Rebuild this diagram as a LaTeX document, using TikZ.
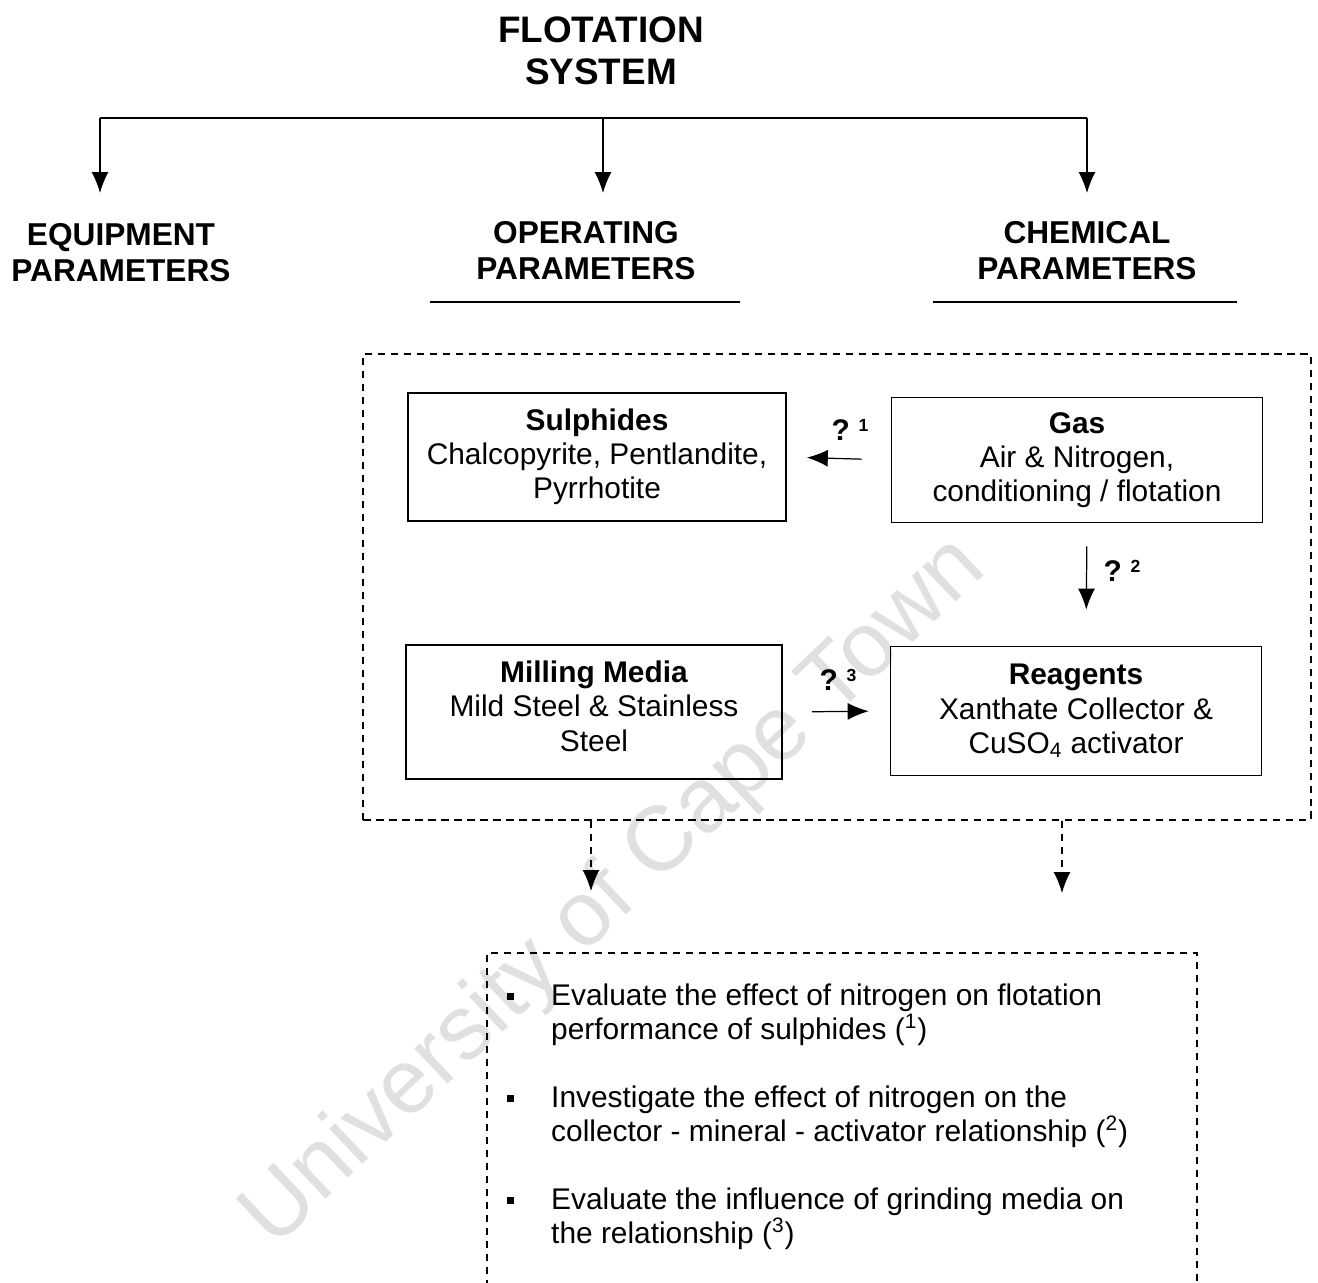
\documentclass[tikz,border=0pt]{standalone}
\usepackage{fontspec}
\setmainfont{Liberation Sans}
\usetikzlibrary{arrows.meta}

\begin{document}
\begin{tikzpicture}[x=0.02cm, y=-0.02cm,
    heading/.style={align=center, font=\fontsize{18}{20.5}\selectfont\bfseries},
    box/.style={draw, line width=1pt, align=center, inner sep=0pt, font=\fontsize{17}{19.5}\selectfont},
    qlabel/.style={font=\fontsize{17}{19}\selectfont\bfseries},
    arr/.style={line width=0.7pt, -{Latex[length=0.42cm, width=0.34cm]}},
    dashline/.style={line width=0.9pt, dash pattern=on 0.15cm off 0.11cm},
    itemtext/.style={anchor=west, align=left, font=\fontsize{17}{19.5}\selectfont},
    bulletbox/.style={fill, minimum size=0.14cm, inner sep=0pt}]

    \useasboundingbox (0,0) rectangle (1318,1282);
    \clip (0,0) rectangle (1318,1282);

    % watermark
    \node[text=black!12, rotate=43.5, font=\fontsize{52}{52}\selectfont] (wm) at (615,893) {University of Cape Town};

    % top of the tree
    \node[heading, font=\fontsize{21}{24}\selectfont\bfseries] (title) at (601,51) {FLOTATION\\SYSTEM};
    \node[heading] (equip) at (121,253) {EQUIPMENT\\PARAMETERS};
    \node[heading] (oper) at (586,251) {OPERATING\\PARAMETERS};
    \node[heading] (chem) at (1087,251) {CHEMICAL\\PARAMETERS};

    \coordinate (busE) at (100,118);
    \coordinate (busO) at (603,118);
    \coordinate (busC) at (1087,118);
    \coordinate (tipE) at (100,193);
    \coordinate (tipO) at (603,193);
    \coordinate (tipC) at (1087,193);

    \draw[line width=0.9pt] (busE) -- (busC);
    \draw[arr] (busE) -- (tipE);
    \draw[arr] (busO) -- (tipO);
    \draw[arr] (busC) -- (tipC);

    \draw[line width=1pt] (430,302) -- (740,302);
    \draw[line width=1pt] (933,302) -- (1237,302);

    % the system under study
    \node[draw, dashline, minimum width=18.96cm, minimum height=9.32cm, inner sep=0pt] (frame) at (837,587) {};

    \node[box, minimum width=7.56cm, minimum height=2.56cm] (sulph) at (597,457) {\textbf{Sulphides}\\Chalcopyrite, Pentlandite,\\Pyrrhotite};
    \node[box, minimum width=7.42cm, minimum height=2.5cm] (gas) at (1077,460) {\textbf{Gas}\\Air \& Nitrogen,\\conditioning / flotation};
    \node[box, minimum width=7.52cm, minimum height=2.68cm] (mill) at (594,712) {\textbf{Milling Media}\\Mild Steel \& Stainless\\Steel\rule[-0.24cm]{0pt}{0pt}};
    \node[box, minimum width=7.42cm, minimum height=2.58cm] (reag) at (1076,711) {\textbf{Reagents}\\Xanthate Collector \&\\CuSO\textsubscript{4} activator};

    \draw[arr, shorten <=0.58cm, shorten >=0.4cm] (gas.west) -- (sulph.east);
    \draw[arr, shorten <=0.46cm, shorten >=0.72cm] ([xshift=0.2cm]gas.south) -- ([xshift=0.2cm]reag.north);
    \draw[arr, shorten <=0.58cm, shorten >=0.42cm] (mill.east) -- (reag.west);

    \node[qlabel] (q1) at (850,430) {?\hspace{0.3em}\raisebox{0.55ex}{\fontsize{10}{10}\selectfont 1}};
    \node[qlabel] (q2) at (1122,571) {?\hspace{0.3em}\raisebox{0.55ex}{\fontsize{10}{10}\selectfont 2}};
    \node[qlabel] (q3) at (838,680) {?\hspace{0.3em}\raisebox{0.55ex}{\fontsize{10}{10}\selectfont 3}};

    % down to the objectives
    \coordinate (downL) at (591,891);
    \coordinate (downR) at (1062,893);
    \draw[arr, dash pattern=on 0.15cm off 0.11cm] (frame.south -| downL) -- (downL);
    \draw[arr, dash pattern=on 0.15cm off 0.11cm] (frame.south -| downR) -- (downR);

    \draw[dashline] (487,1300) -- (487,953) -- (1197,953) -- (1197,1300);

    \node[bulletbox] (b1) at (510,996) {};
    \node[bulletbox] (b2) at (510,1098) {};
    \node[bulletbox] (b3) at (510,1200) {};

    \node[itemtext] (item1) at (545,1015) {Evaluate the effect of nitrogen on flotation\\performance of sulphides (\textsuperscript{1})};
    \node[itemtext] (item2) at (545,1117) {Investigate the effect of nitrogen on the\\collector - mineral - activator relationship (\textsuperscript{2})};
    \node[itemtext] (item3) at (545,1219) {Evaluate the influence of grinding media on\\the relationship (\textsuperscript{3})};

\end{tikzpicture}
\end{document}
